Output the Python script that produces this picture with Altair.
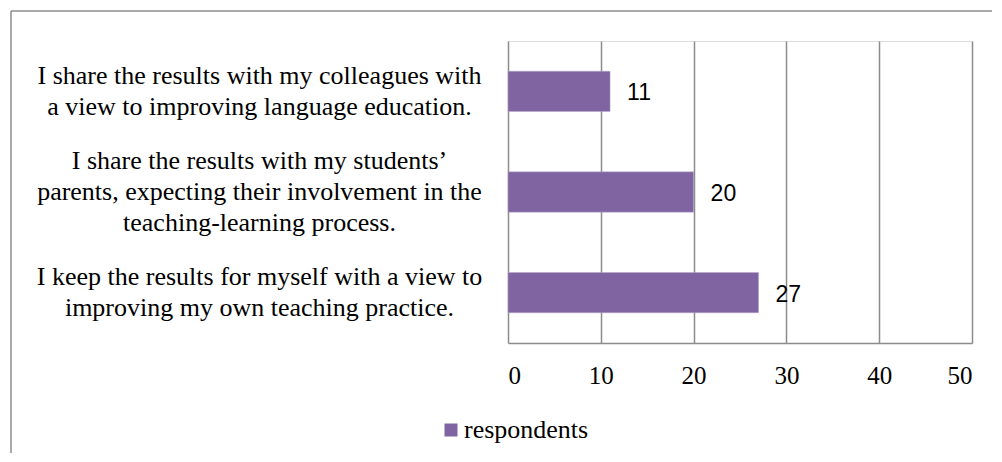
import altair as alt
import pandas as pd

categories = [
    "I share the results with my colleagues with|a view to improving language education.",
    "I share the results with my students’|parents, expecting their involvement in the|teaching-learning process.",
    "I keep the results for myself with a view to|improving my own teaching practice.",
]
values = [11, 20, 27]
series = ["respondents"] * 3
x_ticks = [0, 10, 20, 30, 40, 50]

df = pd.DataFrame({"cat": categories, "val": values, "series": series})

PURPLE = "#8064A2"
GRAY = "#8c8c8c"
SERIF = "Liberation Serif"
LINE_H = 31

base = alt.Chart(df)

y_enc = alt.Y(
    "cat:N",
    sort=None,
    title=None,
    scale=alt.Scale(paddingInner=0.6, paddingOuter=0.3),
    axis=alt.Axis(
        domain=False, ticks=False, tickSize=0, grid=False,
        labelExpr="split(datum.label, '|')",
        labelAlign="center", labelBaseline="middle",
        labelOffset={"expr": f"-(length(split(datum.value, '|')) - 1) * {LINE_H / 2}"},
        labelPadding=249, labelLimit=0,
        labelFont=SERIF, labelFontSize=26, labelLineHeight=LINE_H,
        labelColor="#000000",
    ),
)

x_enc = alt.X(
    "val:Q",
    title=None,
    scale=alt.Scale(domain=[0, 50], nice=False),
    axis=alt.Axis(
        values=x_ticks, domain=True, domainColor=GRAY, domainWidth=1.5,
        ticks=False, tickSize=0, grid=True, gridColor=GRAY, gridWidth=1.5,
        labelFont=SERIF, labelFontSize=25, labelColor="#000000",
        labelPadding=20,
    ),
)

bars = base.mark_bar(stroke="#b8a6cc", strokeWidth=0.5).encode(
    y=y_enc,
    x=x_enc,
    color=alt.Color(
        "series:N",
        scale=alt.Scale(range=[PURPLE]),
        legend=alt.Legend(
            title=None, orient="none", legendX=-70, legendY=376,
            symbolType="square", symbolSize=169, symbolStrokeWidth=0,
            labelFont=SERIF, labelFontSize=26, labelColor="#000000",
            labelOffset=0, padding=0, direction="horizontal",
        ),
    ),
)

labels = base.mark_text(
    align="left", baseline="middle", dx=17, dy=2,
    font="Liberation Sans", fontSize=23, color="#000000",
).encode(y=alt.Y("cat:N", sort=None), x="val:Q", text="val:Q")

frame_data = alt.Data(values=[{"k": 1}])
top_line = alt.Chart(frame_data).mark_rule(color=GRAY, strokeWidth=1.5).encode(
    x=alt.value(-497), x2=alt.value(520), y=alt.value(-30)
)
left_line = alt.Chart(frame_data).mark_rule(color=GRAY, strokeWidth=1.5).encode(
    x=alt.value(-497), y=alt.value(-30), y2=alt.value(440)
)

chart = (
    alt.layer(bars, labels, top_line, left_line)
    .properties(
        width=464, height=302,
        autosize=alt.AutoSizeParams(type="none"),
        padding={"left": 500, "top": 33, "right": 20, "bottom": 110},
    )
    .configure_view(stroke=None)
    .configure(background="#ffffff")
)

chart.save("out.html", embed_options={"renderer": "svg", "actions": False})
